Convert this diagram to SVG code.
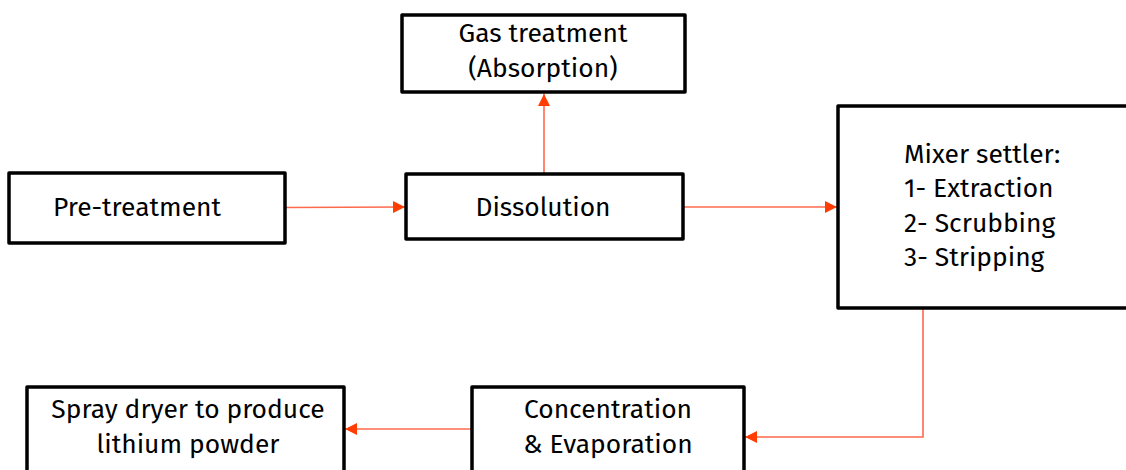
<svg xmlns="http://www.w3.org/2000/svg" width="1126" height="470" viewBox="0 0 1126 470">
<defs>
<style>
.box{fill:#fff;stroke:#000;stroke-width:3.5;stroke-linejoin:round}
.t{font-family:"Fira Sans","Open Sans","Noto Sans",sans-serif;font-size:26.4px;fill:#000}
.c{stroke:#ff6a4d;stroke-width:1.6;fill:none}
</style>
<marker id="ah" viewBox="0 0 10 10" refX="10" refY="5" markerWidth="12" markerHeight="12" markerUnits="userSpaceOnUse" orient="auto">
<path d="M0,0 L10,5 L0,10 z" fill="#ff3d00"/>
</marker>
</defs>
<g id="connectors">
<path class="c" d="M286,207.5 L405,207" marker-end="url(#ah)"/>
<path class="c" d="M684,207 L837,207" marker-end="url(#ah)"/>
<path class="c" d="M544,174 L544,94" marker-end="url(#ah)"/>
<path class="c" d="M923,309 L923,437 L745,437" marker-end="url(#ah)"/>
<path class="c" d="M472,429 L345,429" marker-end="url(#ah)"/>
</g>
<g id="gas">
<rect class="box" x="402" y="15" width="283" height="77"/>
<text class="t" x="543" y="42" text-anchor="middle">Gas treatment</text>
<text class="t" x="543" y="77" text-anchor="middle">(Absorption)</text>
</g>
<g id="pre">
<rect class="box" x="9" y="173" width="276" height="70"/>
<text class="t" x="53" y="216">Pre-treatment</text>
</g>
<g id="dissolution">
<rect class="box" x="406" y="174" width="277" height="65"/>
<text class="t" x="543" y="216" text-anchor="middle">Dissolution</text>
</g>
<g id="mixer">
<rect class="box" x="838" y="106" width="300" height="202"/>
<text class="t" x="904" y="163">Mixer settler:</text>
<text class="t" x="904" y="197">1- Extraction</text>
<text class="t" x="904" y="232">2- Scrubbing</text>
<text class="t" x="904" y="266">3- Stripping</text>
</g>
<g id="concentration">
<rect class="box" x="472" y="387" width="272" height="100"/>
<text class="t" x="608" y="418" text-anchor="middle">Concentration</text>
<text class="t" x="608" y="453" text-anchor="middle">&amp; Evaporation</text>
</g>
<g id="spray">
<rect class="box" x="27" y="387" width="317" height="100"/>
<text class="t" x="188" y="418" text-anchor="middle">Spray dryer to produce</text>
<text class="t" x="188" y="453" text-anchor="middle">lithium powder</text>
</g>
</svg>
